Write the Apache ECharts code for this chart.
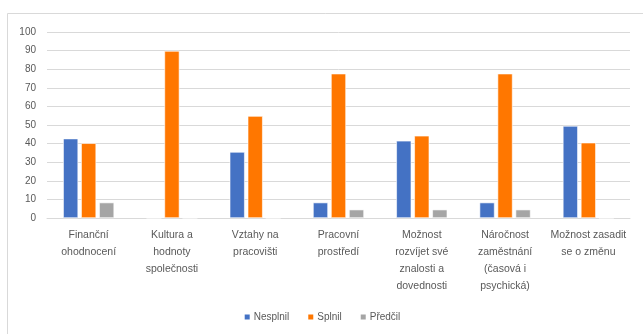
<!DOCTYPE html>
<html>
<head>
<meta charset="utf-8">
<script src="https://cdn.jsdelivr.net/npm/echarts@6/dist/echarts.min.js"></script>
<style>
  html, body { margin: 0; padding: 0; background: #fff; }
  #chart { width: 643px; height: 334px; }
</style>
</head>
<body>
<div id="chart"></div>
<script>
// Categories (wrapped as they appear under the axis)
const categories = [
  'Finanční\nohodnocení',
  'Kultura a\nhodnoty\nspolečnosti',
  'Vztahy na\npracovišti',
  'Pracovní\nprostředí',
  'Možnost\nrozvíjet své\nznalosti a\ndovednosti',
  'Náročnost\nzaměstnání\n(časová i\npsychická)',
  'Možnost zasadit\nse o změnu'
];

// Series values (%)
const nesplnil = [42.7, 0, 35.5, 8.3, 41.5, 8.3, 49.5];
const splnil   = [40.2, 89.8, 54.8, 77.6, 44.2, 77.6, 40.5];
const predcil  = [8.3, 0, 0, 4.5, 4.5, 4.5, 0];

const seriesNames = ['Nesplnil', 'Splnil', 'Předčil'];
const seriesColors = ['#4472c4', '#ff7700', '#a5a5a5'];

const yTicks = { min: 0, max: 100, interval: 10 };

const textColor = '#595959';
const gridColor = '#d9d9d9';
const font = 'Liberation Sans';

const chart = echarts.init(document.getElementById('chart'));

const makeSeries = (name, data, color) => ({
  name,
  type: 'bar',
  data,
  barWidth: 15,
  barGap: '20%',
  itemStyle: { color, borderColor: '#ffffff', borderWidth: 0.6 },
  emphasis: { disabled: true }
});

chart.setOption({
  animation: false,
  backgroundColor: '#ffffff',
  graphic: [{
    type: 'rect',
    shape: { x: 7.5, y: 13.5, width: 700, height: 400 },
    style: { fill: 'none', stroke: gridColor, lineWidth: 1 },
    silent: true
  }],
  grid: { left: 47, right: 13, top: 32, bottom: 116, containLabel: false },
  legend: {
    bottom: 7,
    left: 'center',
    itemWidth: 7,
    itemHeight: 7,
    itemGap: 17,
    icon: 'rect',
    textStyle: { color: textColor, fontSize: 10, fontFamily: font, padding: [0, 0, 0, -2] },
    data: seriesNames
  },
  xAxis: {
    type: 'category',
    data: categories,
    axisLine: { show: true, lineStyle: { color: gridColor, width: 1 } },
    axisTick: { show: false },
    axisLabel: {
      interval: 0,
      color: textColor,
      fontSize: 10.5,
      fontFamily: font,
      lineHeight: 17,
      margin: 9,
      align: 'center'
    }
  },
  yAxis: {
    type: 'value',
    min: yTicks.min,
    max: yTicks.max,
    interval: yTicks.interval,
    axisLine: { show: false },
    axisTick: { show: false },
    splitLine: { lineStyle: { color: gridColor, width: 1 } },
    axisLabel: { color: textColor, fontSize: 10, fontFamily: font, margin: 11 }
  },
  series: [
    makeSeries(seriesNames[0], nesplnil, seriesColors[0]),
    makeSeries(seriesNames[1], splnil, seriesColors[1]),
    makeSeries(seriesNames[2], predcil, seriesColors[2])
  ]
});
</script>
</body>
</html>
